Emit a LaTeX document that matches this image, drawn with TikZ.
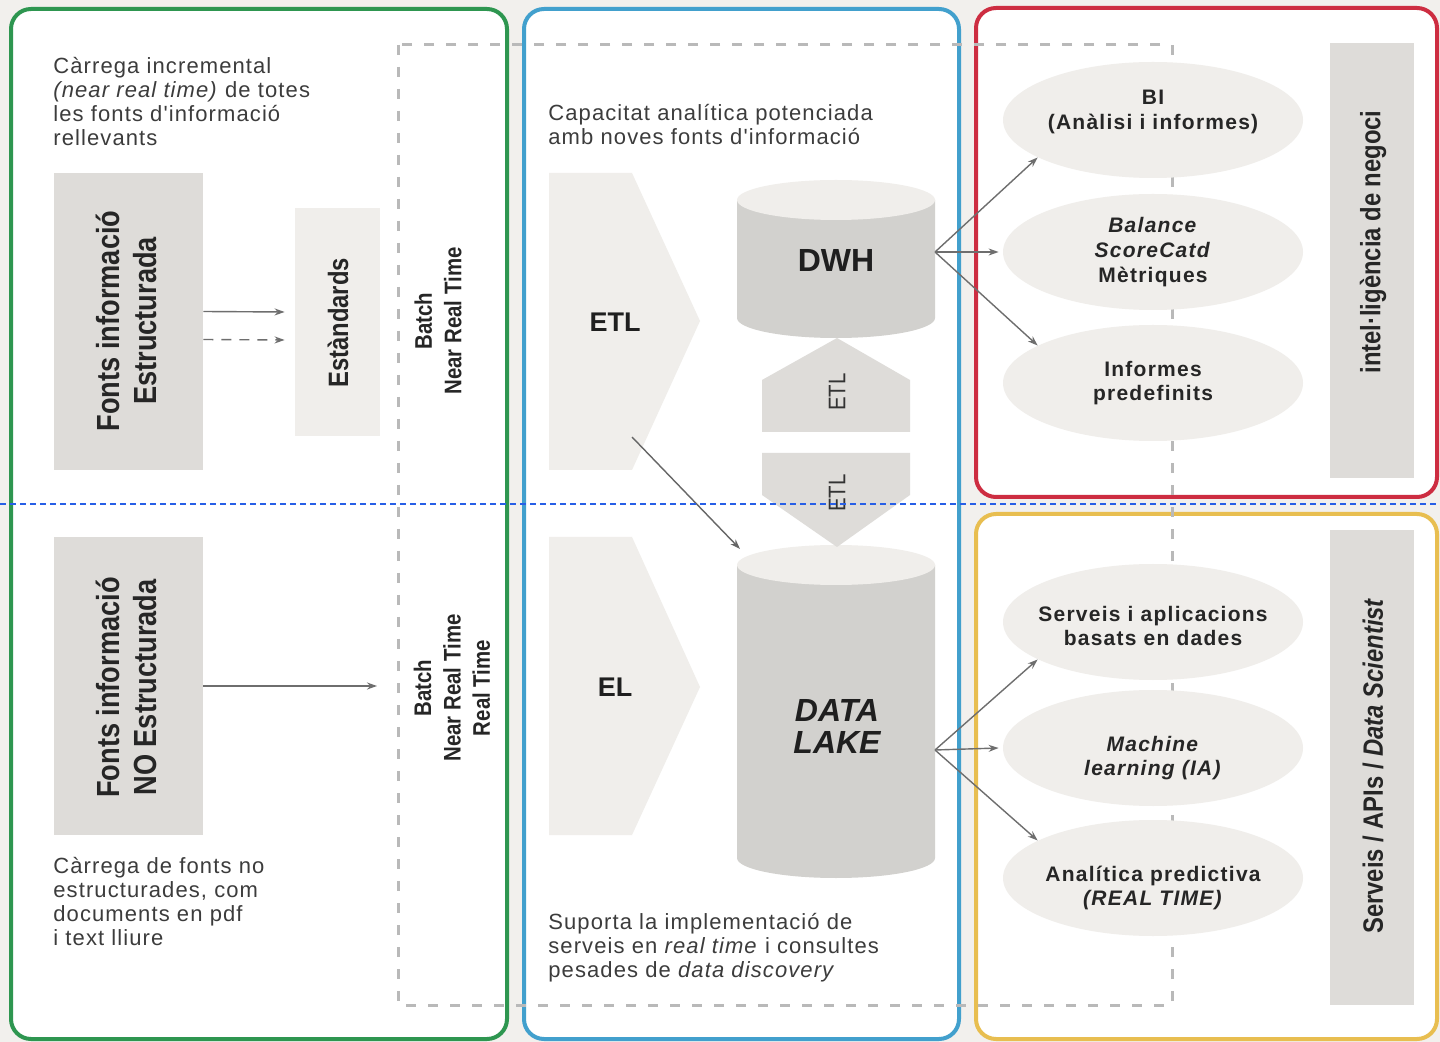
\documentclass[tikz,border=0pt]{standalone}
\usepackage{fontspec}
\setmainfont{Liberation Sans}
\newfontfamily\bodyfont[LetterSpace=5]{Liberation Sans}
\newfontfamily\condfont[FakeStretch=0.85]{Liberation Sans}
\newfontfamily\ellfont[LetterSpace=6]{Liberation Sans}
\usetikzlibrary{arrows.meta,shapes.geometric}
\definecolor{bgc}{RGB}{242,240,237}
\definecolor{pgreen}{RGB}{46,150,80}
\definecolor{pblue}{RGB}{66,160,205}
\definecolor{pred}{RGB}{205,45,65}
\definecolor{pyellow}{RGB}{232,190,80}
\definecolor{boxdark}{RGB}{222,220,217}
\definecolor{boxlight}{RGB}{240,238,235}
\definecolor{cylbody}{RGB}{210,209,206}
\definecolor{dashgray}{RGB}{185,185,185}
\definecolor{txt}{RGB}{60,60,60}
\definecolor{arrowc}{RGB}{110,110,110}
\definecolor{guide}{RGB}{40,95,230}
\tikzset{
  panel/.style={line width=2pt, rounded corners=10pt, fill=white},
  bodytext/.style={anchor=north west, inner sep=0, align=left, font=\bodyfont\fontsize{11}{12}\selectfont, text=txt},
  vlabel/.style={rotate=90, align=center, inner sep=0, font=\condfont\bfseries\fontsize{16}{18.5}\selectfont, text=black!85},
  batchlabel/.style={rotate=90, align=center, inner sep=0, font=\condfont\bfseries\fontsize{12}{14.7}\selectfont, text=black!85},
  sidelabel/.style={rotate=90, align=center, inner sep=0, font=\condfont\bfseries\fontsize{14}{16}\selectfont, text=black!85},
  conn/.style={draw=arrowc, line width=0.7pt, -{Stealth[length=5pt,width=3.5pt]}},
  ell/.style={ellipse, fill=boxlight, minimum width=150pt, minimum height=58pt, inner sep=0},
  elltext/.style={align=center, inner sep=0, font=\ellfont\bfseries\fontsize{10.5}{12.3}\selectfont, text=black!85},
  boxnode/.style={inner sep=0, draw=none},
  biglabel/.style={inner sep=0, align=center, text=black!88},
}
\begin{document}
\begin{tikzpicture}[x=0.5pt,y=-0.5pt]
% background
\fill[bgc] (0,0) rectangle (1440,1042);
\path[use as bounding box] (0,0) rectangle (1440,1042);
% panels
\draw[panel, draw=pgreen] (11,9) rectangle (507,1039);
\draw[panel, draw=pblue] (524,9) rectangle (959,1039);
\draw[panel, draw=pred] (976,8) rectangle (1437,497);
\draw[panel, draw=pyellow] (976,514) rectangle (1437,1039);
% dashed frame
\draw[dashgray, line width=1.5pt, dash pattern=on 5pt off 6pt] (398,45) rectangle (1172,1005);

% ---------- left panel ----------
\node[bodytext] (t1) at (53,57) {Càrrega incremental\\\textit{(near real time)} de totes\\les fonts d'informació\\rellevants};
\node[boxnode, fill=boxdark, minimum width=74.5pt, minimum height=148.5pt] (fe) at (128.5,321.5) {};
\node[vlabel] (fel) at (126.5,321) {Fonts informació\\Estructurada};
\node[boxnode, fill=boxlight, minimum width=42.5pt, minimum height=114pt] (est) at (337.5,322) {};
\node[vlabel, font=\condfont\bfseries\fontsize{14}{16}\selectfont] (estl) at (338,323) {Estàndards};
\draw[conn] ([yshift=5pt]fe.east) -- ([xshift=-5pt,yshift=5pt]est.west);
\draw[conn, dash pattern=on 5pt off 4pt] ([yshift=-9pt]fe.east) -- ([xshift=-5pt,yshift=-9pt]est.west);

\node[boxnode, fill=boxdark, minimum width=74.5pt, minimum height=149pt] (fne) at (128.5,686) {};
\node[vlabel] (fnel) at (126.5,687.5) {Fonts informació\\NO Estructurada};
\coordinate (bin) at (377,686);
\draw[conn] (fne.east |- bin) -- (bin);
\node[bodytext] (t2) at (53,857) {Càrrega de fonts no\\estructurades, com\\documents en pdf\\i text lliure};

\node[batchlabel] (batch1) at (438,321) {Batch\\Near Real Time};
\node[batchlabel] (batch2) at (452,688) {Batch\\Near Real Time\\Real Time};

% ---------- middle panel ----------
\node[bodytext] (t3) at (548,104) {Capacitat analítica potenciada\\amb noves fonts d'informació};
\fill[boxlight] (549,173) -- (632,173) -- (700,321) -- (632,470) -- (549,470) -- cycle;
\node[biglabel, font=\bfseries\fontsize{13.5}{15}\selectfont] (etl) at (615,322) {ETL};
\coordinate (etlout) at (632,437);
\fill[boxlight] (549,537) -- (632,537) -- (700,687) -- (632,835) -- (549,835) -- cycle;
\node[biglabel, font=\bfseries\fontsize{13.5}{15}\selectfont] (el) at (615,687) {EL};

% DWH cylinder
\fill[cylbody] (737,200) -- (737,318) arc[start angle=180,end angle=360,x radius=49.5pt,y radius=10pt] -- (935,200) -- cycle;
\fill[boxlight] (836,200) ellipse[x radius=49.5pt, y radius=10pt];
\node[biglabel, font=\bfseries\fontsize{16}{16}\selectfont] (dwh) at (836,260) {DWH};
\coordinate (dwhR) at (935,252);

% DATA LAKE cylinder
\fill[cylbody] (737,565) -- (737,858) arc[start angle=180,end angle=360,x radius=49.5pt,y radius=10pt] -- (935,565) -- cycle;
\fill[boxlight] (836,565) ellipse[x radius=49.5pt, y radius=10pt];
\node[biglabel, font=\bfseries\itshape\fontsize{16}{16}\selectfont] (dl) at (837,726) {DATA\\LAKE};
\coordinate (dlR) at (935,750);
\coordinate (dlTL) at (740,549);

% ETL hexagons
\fill[boxdark] (837,338) -- (910,380) -- (910,432) -- (762,432) -- (762,380) -- cycle;
\node[rotate=90, inner sep=0, font=\condfont\fontsize{12}{12}\selectfont, text=black!80] (etlu) at (837,392) {ETL};
\fill[boxdark] (762,453) -- (910,453) -- (910,495) -- (837,547) -- (762,495) -- cycle;
\node[rotate=90, inner sep=0, font=\condfont\fontsize{12}{12}\selectfont, text=black!80] (etld) at (837,493) {ETL};

\draw[conn, draw=black!60] (etlout) -- (dlTL);

\node[bodytext] (t4) at (548,913) {Suporta la implementació de\\serveis en \textit{real time} i consultes\\pesades de \textit{data discovery}};

% ---------- right panels ----------
\node[boxnode, fill=boxdark, minimum width=42pt, minimum height=217.5pt] (bar1) at (1372,260.5) {};
\node[sidelabel] (bar1l) at (1373,242) {intel·ligència de negoci};
\node[boxnode, fill=boxdark, minimum width=42pt, minimum height=237.5pt] (bar2) at (1372,767.5) {};
\node[sidelabel] (bar2l) at (1373,766) {Serveis / APIs / \textit{Data Scientist}};

\node[ell] (bi) at (1153,120) {};
\node[elltext] at ([yshift=4pt]bi.center) {BI\\(Anàlisi i informes)};
\node[ell] (bsc) at (1153,252) {};
\node[elltext] at (bsc) {\textit{Balance}\\\textit{ScoreCatd}\\Mètriques};
\node[ell] (inf) at (1153,383) {};
\node[elltext] at (inf) {Informes\\predefinits};

\node[ell] (srv) at (1153,622) {};
\node[elltext] at ([yshift=-2pt]srv.center) {Serveis i aplicacions\\basats en dades};
\node[ell] (ml) at (1153,748) {};
\node[elltext] at ([yshift=-5pt]ml.center) {\textit{Machine}\\\textit{learning (IA)}};
\node[ell] (ana) at (1153,878) {};
\node[elltext] at ([yshift=-5pt]ana.center) {Analítica predictiva\\\textit{(REAL TIME)}};

% fan arrows
\draw[conn] (dwhR) -- (bi.198);
\draw[conn] (dwhR) -- ([xshift=-2pt]bsc.west);
\draw[conn] (dwhR) -- (inf.162);
\draw[conn] (dlR) -- (srv.198);
\draw[conn] (dlR) -- ([xshift=-2pt]ml.west);
\draw[conn] (dlR) -- (ana.162);

% guide line
\draw[guide, line width=0.6pt, dash pattern=on 3pt off 2pt] (0,504) -- (1440,504);
\end{tikzpicture}
\end{document}
